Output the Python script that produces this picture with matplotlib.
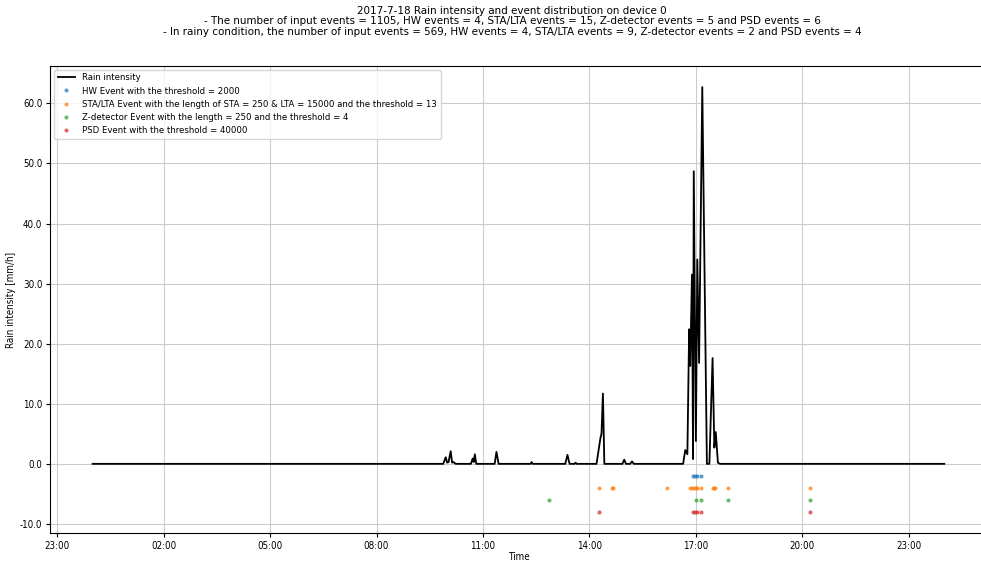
import numpy as np
import pandas as pd
import matplotlib
matplotlib.use('Agg')
import matplotlib.pyplot as plt
import matplotlib.dates as mdates

plt.rcParams['font.stretch'] = 'condensed'

# rain intensity, hours since 2017-07-18 00:00 -> mm/h
rain_hours = [0.0, 9.88, 9.95, 9.99, 10.03, 10.09, 10.13, 10.17, 10.23, 10.66, 10.71, 10.74, 10.77, 10.81,
              11.33, 11.38, 11.44, 12.34, 12.37, 12.4, 13.32, 13.38, 13.44, 13.58, 13.61, 13.64,
              14.2, 14.31, 14.34, 14.38, 14.42, 14.93, 14.98, 15.03, 15.15, 15.2, 15.25,
              16.64, 16.7, 16.76, 16.81, 16.84, 16.89, 16.92, 16.94, 17.0, 17.04, 17.09,
              17.18, 17.31, 17.38, 17.47, 17.52, 17.56, 17.62, 17.68, 24.0]
rain_vals = [0.0, 0.0, 1.1, 0.2, 0.3, 2.1, 0.2, 0.3, 0.0, 0.0, 0.9, 0.3, 1.6, 0.0,
             0.0, 2.0, 0.0, 0.0, 0.3, 0.0, 0.0, 1.5, 0.0, 0.0, 0.2, 0.0,
             0.0, 4.3, 5.0, 11.7, 0.0, 0.0, 0.7, 0.0, 0.0, 0.4, 0.0,
             0.0, 2.3, 1.6, 22.4, 16.3, 31.5, 0.8, 48.7, 3.8, 34.0, 16.8,
             62.7, 0.0, 0.0, 17.6, 2.7, 5.3, 0.2, 0.0, 0.0]

# event times (hours since 00:00)
hw_hours = [16.92, 16.98, 17.03, 17.15]
sta_lta_hours = [14.28, 14.63, 14.66, 16.19, 16.84, 16.9, 16.95, 17.01, 17.03, 17.15,
                 17.48, 17.51, 17.54, 17.91, 20.21]
zdet_hours = [12.85, 17.01, 17.15, 17.91, 20.21]
psd_hours = [14.28, 16.92, 16.98, 17.03, 17.15, 20.21]

base = pd.Timestamp('2017-07-18')
to_time = lambda h: base + pd.to_timedelta(h, unit='h')

fig = plt.figure(figsize=(9.81, 5.63), dpi=100)
ax = fig.add_axes([0.051, 0.053, 0.955, 0.83])

ax.plot(to_time(rain_hours), rain_vals, color='black', lw=1.3, label='Rain intensity')
ax.plot(to_time(hw_hours), [-2] * len(hw_hours), '.', ms=4, alpha=0.6,
        color='tab:blue', label='HW Event with the threshold = 2000')
ax.plot(to_time(sta_lta_hours), [-4] * len(sta_lta_hours), '.', ms=4, alpha=0.6,
        color='tab:orange', label='STA/LTA Event with the length of STA = 250 & LTA = 15000 and the threshold = 13')
ax.plot(to_time(zdet_hours), [-6] * len(zdet_hours), '.', ms=4, alpha=0.6,
        color='tab:green', label='Z-detector Event with the length = 250 and the threshold = 4')
ax.plot(to_time(psd_hours), [-8] * len(psd_hours), '.', ms=4, alpha=0.6,
        color='tab:red', label='PSD Event with the threshold = 40000')

ticks = pd.date_range('2017-07-17 23:00', periods=9, freq='3h')
ax.set_xticks(ticks)
ax.xaxis.set_major_formatter(mdates.DateFormatter('%H:%M'))
ax.set_xlim(to_time(-1.2), to_time(25.2))
ax.yaxis.set_major_formatter(matplotlib.ticker.FormatStrFormatter('%.1f'))
ax.tick_params(labelsize=7, pad=2.5, length=3)
ax.grid(True, color='#cccccc', lw=0.8)
ax.set_xlabel('Time', fontsize=7, labelpad=1)
ax.set_ylabel('Rain intensity [mm/h]', fontsize=7, labelpad=2.5)

ax.legend(loc='upper left', fontsize=6.8, handlelength=1.8, borderaxespad=0.4,
          labelspacing=0.45)

fig.suptitle('2017-7-18 Rain intensity and event distribution on device 0\n'
             '- The number of input events = 1105, HW events = 4, STA/LTA events = 15, Z-detector events = 5 and PSD events = 6\n'
             '- In rainy condition, the number of input events = 569, HW events = 4, STA/LTA events = 9, Z-detector events = 2 and PSD events = 4',
             fontsize=8.25, y=0.99, x=0.522, linespacing=1.1)

fig.savefig('out.png', dpi=100)
